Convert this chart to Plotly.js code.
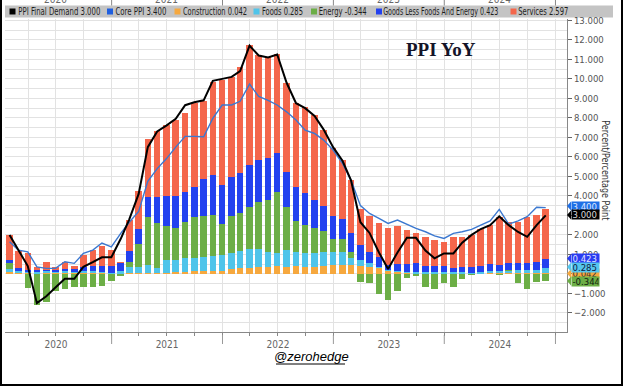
<!DOCTYPE html>
<html><head><meta charset="utf-8">
<script src="https://cdn.plot.ly/plotly-3.0.1.min.js"></script>
<style>
html,body{margin:0;padding:0;background:#fff;}
#wrap{position:relative;width:623px;height:386px;overflow:hidden;}
#chart{position:absolute;left:0;top:0;width:623px;height:386px;}
#frame{position:absolute;left:0;top:0;width:623px;height:386px;box-sizing:border-box;border-left:2px solid #000;border-right:2px solid #000;border-bottom:2px solid #000;pointer-events:none;}
</style></head>
<body><div id="wrap"><div id="chart"></div><div id="frame"></div></div>
<script>
const dates = [
"2020-01-31","2020-02-29","2020-03-31","2020-04-30","2020-05-31","2020-06-30","2020-07-31","2020-08-31","2020-09-30","2020-10-31","2020-11-30","2020-12-31",
"2021-01-31","2021-02-28","2021-03-31","2021-04-30","2021-05-31","2021-06-30","2021-07-31","2021-08-31","2021-09-30","2021-10-31","2021-11-30","2021-12-31",
"2022-01-31","2022-02-28","2022-03-31","2022-04-30","2022-05-31","2022-06-30","2022-07-31","2022-08-31","2022-09-30","2022-10-31","2022-11-30","2022-12-31",
"2023-01-31","2023-02-28","2023-03-31","2023-04-30","2023-05-31","2023-06-30","2023-07-31","2023-08-31","2023-09-30","2023-10-31","2023-11-30","2023-12-31",
"2024-01-31","2024-02-29","2024-03-31","2024-04-30","2024-05-31","2024-06-30","2024-07-31","2024-08-31","2024-09-30","2024-10-31","2024-11-30"];

const ppiFinalDemand = [2.0,1.2,0.4,-1.5,-1.15,-0.7,-0.25,-0.25,0.36,0.6,0.85,0.85,
 1.8,2.8,4.1,6.5,7.3,7.6,7.95,8.65,8.8,8.9,9.9,10.0,
 10.1,10.4,11.7,11.2,11.1,11.25,9.8,8.75,8.5,8.1,7.4,6.5,
 5.8,4.8,2.65,2.1,1.1,0.25,1.1,1.85,1.85,1.2,0.8,1.05,
 1.05,1.6,2.0,2.3,2.5,2.95,2.5,2.15,1.9,2.5,3.0];
const corePPI = [1.65,1.22,1.13,0.36,0.28,0.28,0.62,0.54,1.05,1.22,1.58,1.39,
 2.08,2.65,3.2,4.75,5.4,5.9,6.5,7.05,7.05,7.03,7.97,8.66,
 8.66,8.85,9.73,9.1,8.9,8.66,8.31,7.89,7.37,7.2,6.86,6.35,
 5.67,4.81,3.5,3.1,2.85,2.59,2.76,2.54,2.33,2.16,1.95,1.82,
 2.08,2.16,2.28,2.5,2.72,3.31,2.55,2.72,2.93,3.42,3.4];
const construction = [0.10,0.06,0.03,0.02,0.03,0.03,0.03,0.03,0.04,0.04,0.03,0.02,
 0.02,0.04,0.05,0.05,0.06,0.07,0.10,0.12,0.15,0.15,0.16,0.16,
 0.25,0.28,0.30,0.36,0.33,0.40,0.36,0.40,0.36,0.36,0.40,0.45,
 0.45,0.45,0.40,0.36,0.28,0.14,0.08,0.03,0.02,0.02,0.02,0.02,
 0.02,0.02,0.02,0.02,0.03,0.04,0.05,0.05,0.05,0.05,0.042];
const foods = [0.13,0.10,0.05,0.08,0.12,0.05,0.10,0.08,0.12,0.13,0.08,0.04,
 0.12,0.29,0.30,0.40,0.22,0.64,0.60,0.68,0.65,0.70,0.75,0.80,
 0.80,0.90,0.96,0.90,0.80,0.65,0.86,0.73,0.72,0.72,0.73,0.68,
 0.68,0.35,0.30,0.18,0.08,0.06,0.07,0.08,0.08,0.08,0.10,0.08,
 0.07,0.08,0.05,0.08,0.12,0.10,0.12,0.17,0.17,0.17,0.285];
const energy = [0.34,0.0,-0.72,-1.62,-1.45,-0.88,-0.75,-0.68,-0.68,-0.68,-0.60,-0.35,
 -0.10,0.29,1.17,2.45,2.31,1.74,1.67,1.87,2.13,2.11,2.10,1.60,
 1.90,1.92,2.18,2.44,2.65,3.16,2.19,1.59,1.42,1.25,1.06,0.64,
 0.64,0.33,-0.40,-0.49,-1.05,-1.35,-0.88,-0.20,-0.10,-0.66,-0.78,-0.49,
 -0.66,-0.24,-0.07,-0.03,0.02,-0.07,0.03,-0.49,-0.76,-0.41,-0.344];
const goodsLessFoodsEnergy = [0.14,0.12,0.12,0.10,0.05,0.10,0.12,0.12,0.20,0.25,0.29,0.36,
 0.41,0.57,0.77,1.05,1.36,1.54,1.62,1.54,1.54,1.90,2.05,2.00,
 2.00,2.05,2.14,2.14,2.14,1.97,1.83,1.75,1.63,1.45,1.29,1.19,
 1.03,0.95,0.80,0.56,0.52,0.25,0.34,0.38,0.44,0.32,0.30,0.28,
 0.23,0.26,0.26,0.28,0.34,0.34,0.34,0.34,0.34,0.37,0.423];
const services = [1.28,0.90,0.85,0.15,0.40,0.18,0.35,0.20,0.60,0.80,1.03,0.80,
 0.05,1.55,1.95,2.95,3.39,3.64,3.89,4.03,4.30,4.00,4.78,5.39,
 5.15,5.45,6.15,5.38,5.21,5.09,4.53,4.27,4.41,4.36,3.89,3.48,
 3.04,2.73,1.85,1.86,1.71,1.91,1.98,1.76,1.54,1.48,1.31,1.25,
 1.55,1.54,1.64,1.92,2.00,2.45,2.13,2.08,2.37,2.41,2.597];

const seriesNames = ["PPI Final Demand","Core PPI","Construction","Foods","Energy","Goods Less Foods And Energy","Services"];
const yearLabels = ["2020","2021","2022","2023","2024"];
const chartTitle = "PPI YoY";
const axisTitle = "Percent/Percentage Point";
const sourceText = "@zerohedge";

const C = {ppi:"#000000", core:"#3b78d0", cons:"#f6a83e", foods:"#4fc4ea", energy:"#6cae46", goods:"#2341ef", serv:"#f4664b"};
const FONT = "'Liberation Sans Narrow','DejaVu Sans Condensed','Liberation Sans',Arial,sans-serif";

// pixel helpers
const L=5, R=567, T=19, B=332, W=R-L, H=B-T;
const px = x => (x-L)/W;
const py = y => (B-y)/H;

const barW = 21.5*86400000;
function bar(name, y, color){
  return {type:"bar", x:dates, y:y, name:name, width:barW, marker:{color:color, line:{width:0}}, hoverinfo:"skip"};
}
const traces = [
  bar("Construction", construction, C.cons),
  bar("Foods", foods, C.foods),
  bar("Energy", energy, C.energy),
  bar("Goods Less Foods And Energy", goodsLessFoodsEnergy, C.goods),
  bar("Services", services, C.serv),
  {type:"scatter", mode:"lines", x:dates, y:corePPI, line:{color:C.core, width:1.4}, name:"Core PPI"},
  {type:"scatter", mode:"lines", x:dates, y:ppiFinalDemand, line:{color:C.ppi, width:2}, name:"PPI Final Demand"}
];

const last = a => a[a.length-1];
const shapes = [], annotations = [];
const squeeze = []; // [annotation index, target width]

// legend band
shapes.push({type:"rect", xref:"paper", yref:"paper", x0:px(5), x1:px(613), y0:py(17.5), y1:py(5.5), fillcolor:"#c4c4c4", line:{width:0}, layer:"below"});
const legendItems = [
  {name:seriesNames[0], v:last(ppiFinalDemand), c:"#000", sq:9.5, tx:18, w:82},
  {name:seriesNames[1], v:last(corePPI), c:"#1f5fe0", sq:107, tx:115.5, w:51},
  {name:seriesNames[2], v:last(construction), c:C.cons, sq:174.5, tx:182.5, w:64},
  {name:seriesNames[3], v:last(foods), c:C.foods, sq:253.5, tx:261.5, w:41},
  {name:seriesNames[4], v:last(energy), c:C.energy, sq:311, tx:319, w:48},
  {name:seriesNames[5], v:last(goodsLessFoodsEnergy), c:C.goods, sq:376, tx:383.5, w:115},
  {name:seriesNames[6], v:last(services), c:C.serv, sq:510.5, tx:518.5, w:50}
];
legendItems.forEach(it=>{
  shapes.push({type:"rect", xref:"paper", yref:"paper", x0:px(it.sq), x1:px(it.sq+6), y0:py(14.5), y1:py(8.5), fillcolor:it.c, line:{width:0}});
  squeeze.push([annotations.length, it.w]);
  annotations.push({xref:"paper", yref:"paper", x:px(it.tx+it.w/2), y:py(11.6), xanchor:"center", yanchor:"middle", showarrow:false,
    text:it.name+" "+it.v.toFixed(3), font:{family:FONT, size:10, color:"#1e1e1e"}});
});

// clipped top year labels and year separators
yearLabels.forEach((t,i)=>{
  annotations.push({xref:"x", yref:"paper", x:t+"-07-01", y:py(0), xanchor:"center", yanchor:"middle", showarrow:false,
    text:t, font:{family:FONT, size:10, color:"#666"}});
});
["2021-01-01","2022-01-01","2023-01-01","2024-01-01","2025-01-01"].forEach(d=>{
  shapes.push({type:"line", xref:"x", yref:"paper", x0:d, x1:d, y0:py(0), y1:py(5.5), line:{color:"#888", width:1}});
  shapes.push({type:"line", xref:"x", yref:"paper", x0:d, x1:d, y0:py(335), y1:py(344), line:{color:"#999", width:1}});
});

// title
annotations.push({xref:"paper", yref:"paper", x:px(441), y:py(49), xanchor:"center", yanchor:"middle", showarrow:false,
  text:"<b>"+chartTitle+"</b>", font:{family:"'Liberation Serif','DejaVu Serif',serif", size:19, color:"#141428"}});

// axis title (rotated)
squeeze.push([annotations.length, 100]);
annotations.push({xref:"paper", yref:"paper", x:px(606), y:py(170), xanchor:"center", yanchor:"middle", showarrow:false,
  textangle:90, text:axisTitle, font:{family:FONT, size:10, color:"#333"}});

// value boxes on right axis
const boxes = [
  {v:last(construction), y:273.5, bg:C.cons, fc:"#333"},
  {v:last(corePPI), y:206, bg:"#1f6fe6", fc:"#dfe8ff"},
  {v:last(ppiFinalDemand), y:215, bg:"#000", fc:"#d8d8d8"},
  {v:last(goodsLessFoodsEnergy), y:258.5, bg:"#2a3cf2", fc:"#e0e4ff"},
  {v:last(foods), y:267, bg:"#55c6ee", fc:"#102040"},
  {v:last(energy), y:281, bg:"#6cae46", fc:"#102010"}
];
boxes.forEach(b=>{
  shapes.push({type:"path", xref:"paper", yref:"paper",
    path:"M "+px(567)+" "+py(b.y)+" L "+px(571)+" "+py(b.y-4.5)+" L "+px(571)+" "+py(b.y+4.5)+" Z",
    fillcolor:b.bg, line:{width:0}});
  annotations.push({xref:"paper", yref:"paper", x:px(570.5), y:py(b.y), xanchor:"left", yanchor:"middle", showarrow:false,
    text:b.v.toFixed(3), bgcolor:b.bg, width:26, height:8, align:"left", borderpad:0.5,
    font:{family:FONT, size:9.5, color:b.fc}});
});

// source
annotations.push({xref:"paper", yref:"paper", x:px(311), y:py(356), xanchor:"center", yanchor:"middle", showarrow:false,
  text:"<i>"+sourceText+"</i>", font:{family:"'Liberation Sans',Arial,sans-serif", size:13, color:"#000"}});
shapes.push({type:"line", xref:"paper", yref:"paper", x0:px(276), x1:px(345), y0:py(364), y1:py(364), line:{color:"#000", width:1}});

const layout = {
  width:623, height:386,
  margin:{l:L, r:623-R, t:T, b:386-B, pad:0},
  paper_bgcolor:"#fff", plot_bgcolor:"#fff",
  barmode:"relative", bargap:0,
  showlegend:false,
  xaxis:{type:"date", range:["2020-01-16","2025-02-08"],
    tick0:"2020-01-01", dtick:"M12", ticklabelmode:"period", tickformat:"%Y",
    ticks:"outside", ticklen:3, tickcolor:"#888",
    showgrid:true, gridcolor:"#e2e2e2", gridwidth:1,
    minor:{dtick:"M3", showgrid:true, gridcolor:"#e2e2e2", ticks:"outside", ticklen:3, tickcolor:"#888"},
    showline:true, linecolor:"#888", linewidth:1,
    tickfont:{family:FONT, size:10, color:"#666"}, zeroline:false, fixedrange:true},
  yaxis:{side:"right", range:[-2.98, 13.07], dtick:1, tick0:0, tickformat:".3f",
    ticks:"outside", ticklen:4, tickcolor:"#666",
    showgrid:true, gridcolor:"#e2e2e2", gridwidth:1,
    minor:{dtick:0.5, showgrid:true, gridcolor:"#e2e2e2"},
    showline:true, linecolor:"#888", linewidth:1, zeroline:false,
    tickfont:{family:FONT, size:9.5, color:"#555"}, fixedrange:true},
  shapes:shapes, annotations:annotations
};
Plotly.newPlot("chart", traces, layout, {displayModeBar:false, staticPlot:true}).then(gd=>{
  const groups = gd.querySelectorAll(".annotation");
  squeeze.forEach(([i,w])=>{
    const g = groups[i];
    if(!g) return;
    const t = g.querySelector("text.annotation-text");
    if(!t) return;
    t.setAttribute("textLength", w);
    t.setAttribute("lengthAdjust", "spacingAndGlyphs");
  });
});
</script></body></html>
